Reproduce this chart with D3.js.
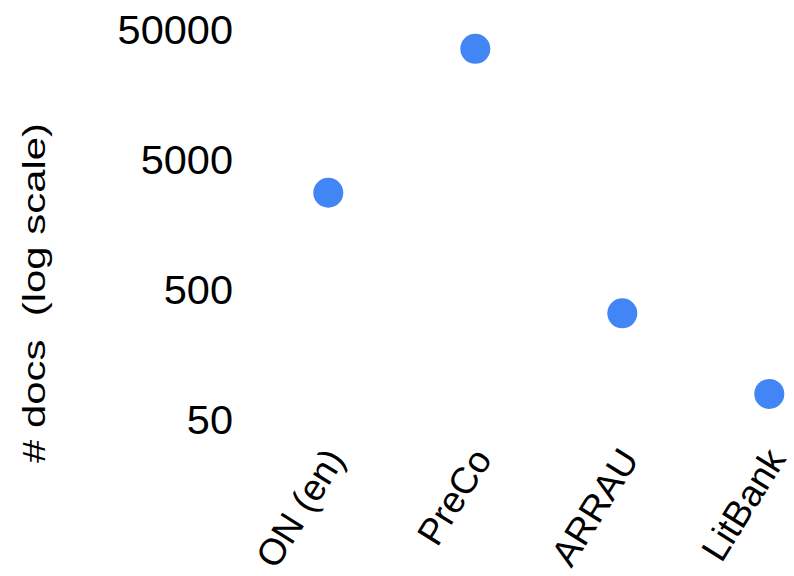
<!DOCTYPE html>
<html>
<head>
<meta charset="utf-8">
<script src="https://cdn.jsdelivr.net/npm/d3@7"></script>
<style>
  html, body { margin: 0; padding: 0; background: #fff; }
  svg { display: block; font-family: "Liberation Sans", Arial, sans-serif; }
</style>
</head>
<body>
<svg id="chart" width="794" height="576"></svg>
<script>
// Corpus sizes: number of documents per coreference dataset
const datasets = ["ON (en)", "PreCo", "ARRAU", "LitBank"];
const docCounts = [2750, 35200, 325, 78];
const yTicks = [50, 500, 5000, 50000];
const yTitle = "# docs  (log scale)";

const svg = d3.select("#chart");

const x = d3.scalePoint()
  .domain(datasets)
  .range([328.3, 769.3])
  .padding(0);

const y = d3.scaleLog()
  .domain([50, 50000])
  .range([419, 29]);

// Y axis: labels only, no line or tick marks
const yAxis = svg.append("g")
  .attr("transform", "translate(233,0)")
  .call(d3.axisLeft(y).tickValues(yTicks).tickFormat(d3.format("d")).tickSize(0).tickPadding(0));
yAxis.select(".domain").remove();
yAxis.selectAll("text")
  .attr("dy", "0.358em")
  .attr("font-size", 41.5)
  .attr("fill", "#000")
  .attr("font-family", "Liberation Sans, Arial, sans-serif");

// X axis: rotated category labels
const xAxis = svg.append("g")
  .attr("transform", "translate(0,459)")
  .call(d3.axisBottom(x).tickSize(0).tickPadding(0));
xAxis.select(".domain").remove();
xAxis.selectAll("text")
  .attr("x", 0)
  .attr("y", 0)
  .attr("dy", 0)
  .attr("transform", "translate(17,0) rotate(-58)")
  .attr("text-anchor", "end")
  .attr("font-size", 37)
  .attr("fill", "#000")
  .attr("font-family", "Liberation Sans, Arial, sans-serif");

// Y axis title
svg.append("text")
  .attr("transform", "translate(45,293) rotate(-90)")
  .attr("text-anchor", "middle")
  .attr("font-size", 31)
  .attr("fill", "#000")
  .attr("textLength", 340)
  .attr("lengthAdjust", "spacingAndGlyphs")
  .style("white-space", "pre")
  .text(yTitle);

// Points
svg.append("g")
  .selectAll("circle")
  .data(datasets.map((d, i) => ({ name: d, value: docCounts[i] })))
  .join("circle")
  .attr("cx", d => x(d.name))
  .attr("cy", d => y(d.value))
  .attr("r", 15)
  .attr("fill", "#4285F4");
</script>
</body>
</html>
